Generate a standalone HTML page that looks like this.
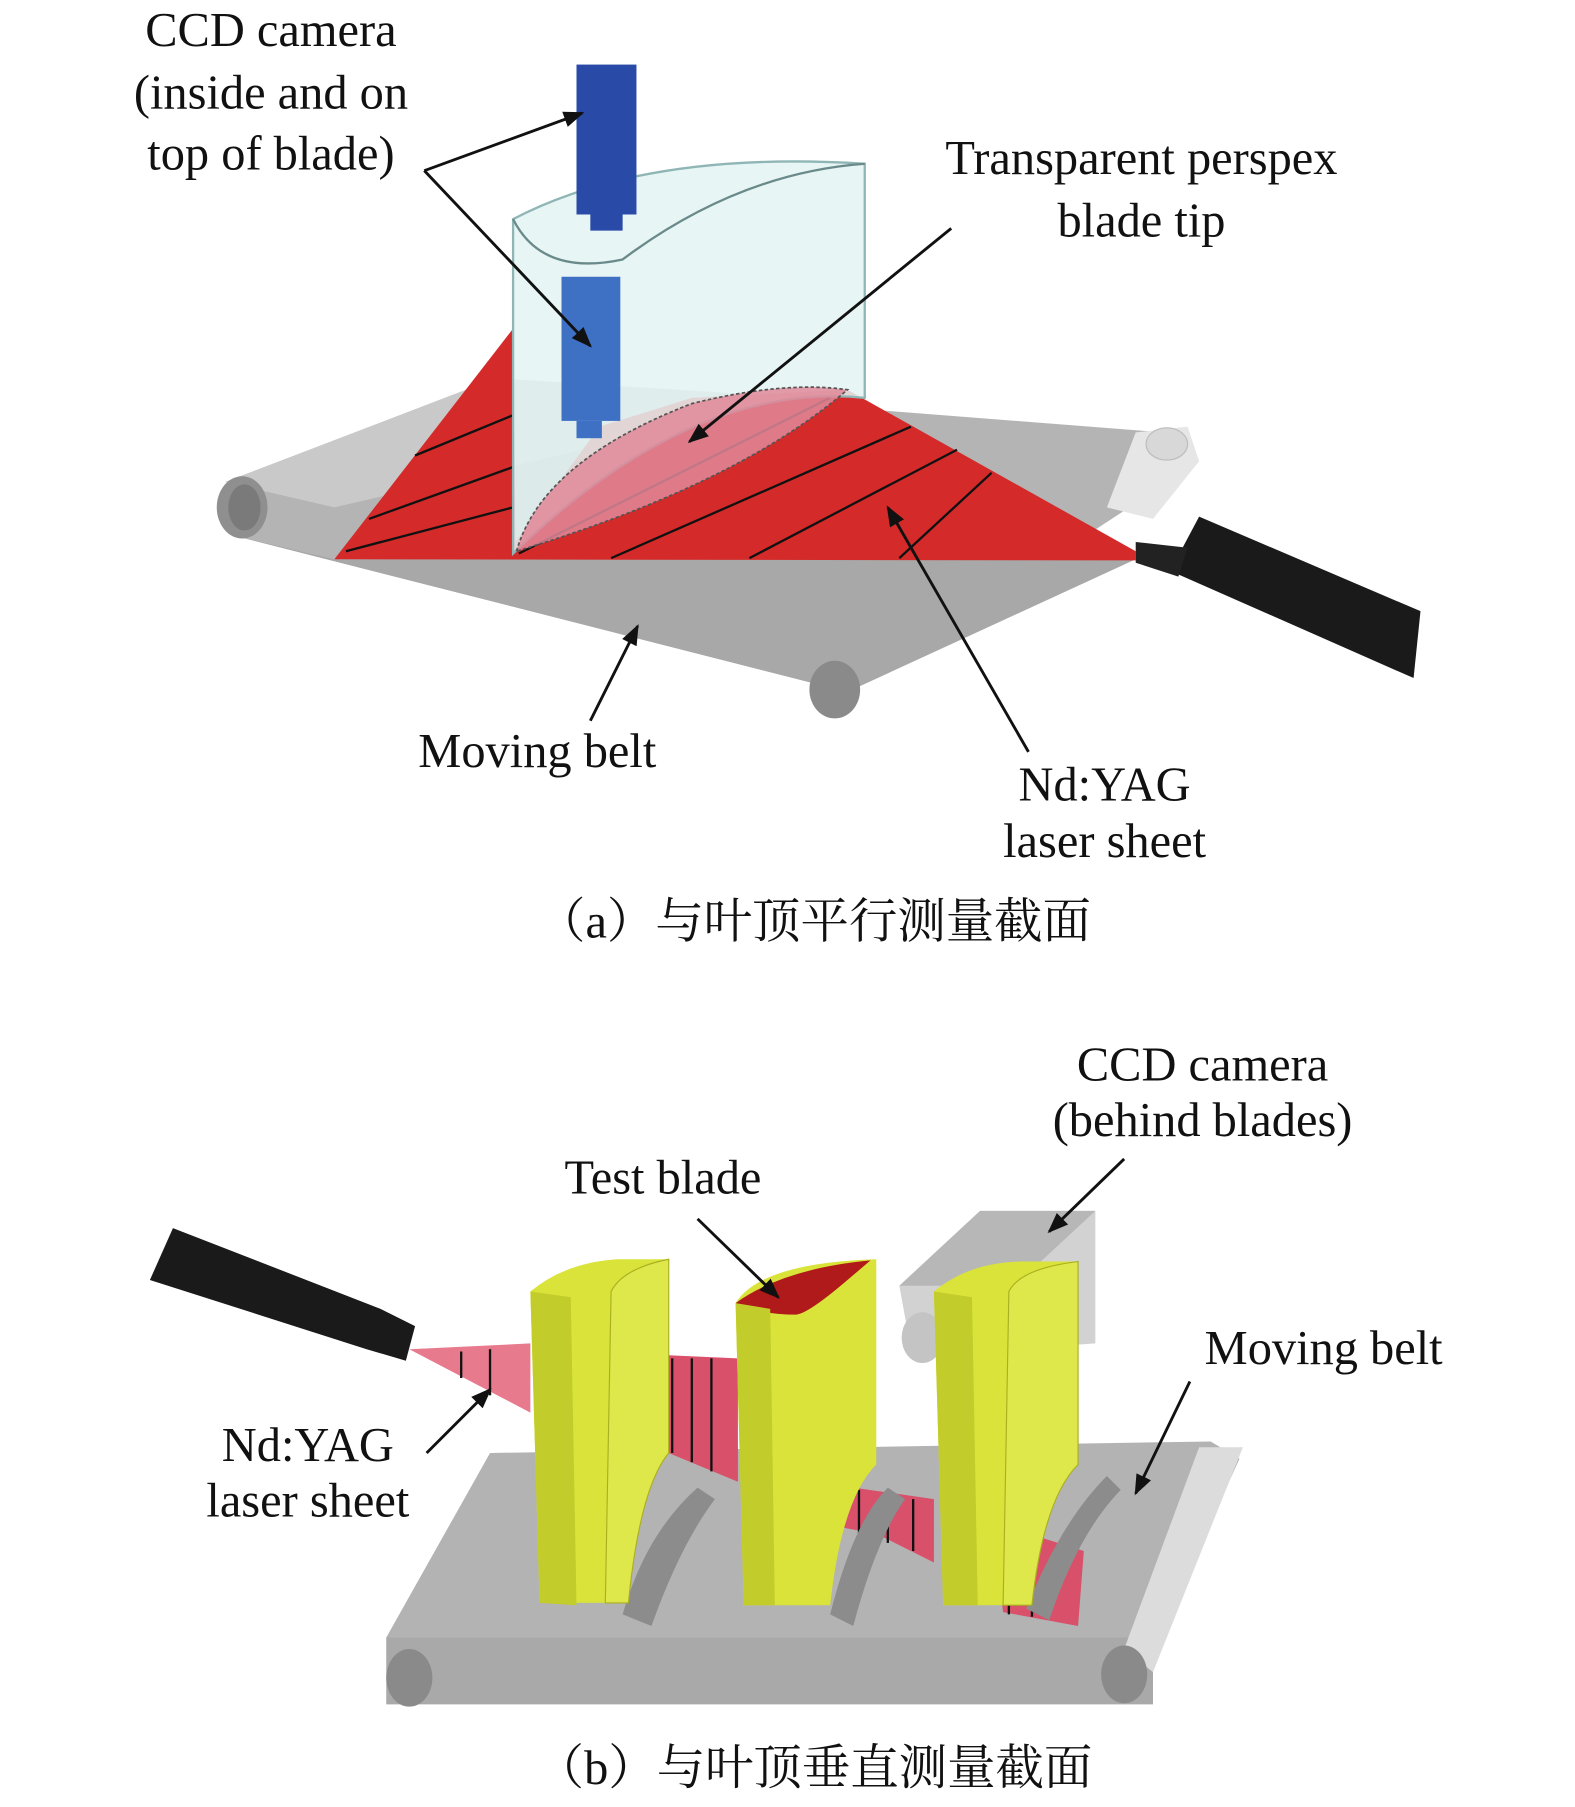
<!DOCTYPE html>
<html><head><meta charset="utf-8"><style>
html,body{margin:0;padding:0;background:#fff;}
svg{display:block;}
text{font-family:"Liberation Serif","Noto Serif CJK SC",serif;fill:#111;}
</style></head><body>
<svg width="1575" height="1807" viewBox="0 0 1366 1567" preserveAspectRatio="none" xmlns="http://www.w3.org/2000/svg">
<defs>
<marker id="ahb" markerWidth="18" markerHeight="18" refX="16" refY="9" orient="auto" markerUnits="userSpaceOnUse" viewBox="0 0 18 18">
<path d="M0,2 L18,9 L0,16 z" fill="#111"/></marker>
</defs>

<!-- ===== (a) ===== -->
<polygon points="195,420 430,330 1010,375 1010,420 735,600 205,465" fill="#b4b4b4"/>
<polygon points="205,465 290,485 985,485 735,600" fill="#a8a8a8"/>
<polygon points="195,418 430,328 700,345 290,440" fill="#c9c9c9"/>
<ellipse cx="210" cy="440" rx="22" ry="27" fill="#8f8f8f"/>
<ellipse cx="212" cy="440" rx="14" ry="20" fill="#7a7a7a"/>
<ellipse cx="724" cy="598" rx="22" ry="25" fill="#8a8a8a"/>
<polygon points="985,375 1030,370 1040,400 1000,450 960,440" fill="#e6e6e6"/>
<ellipse cx="1012" cy="385" rx="18" ry="14" fill="#d8d8d8" stroke="#bbb"/>
<polygon points="290,485 445,285 447,470 520,370 600,345 735,338 985,478 985,486" fill="#d42a2a"/>
<g stroke="#111" stroke-width="2">
<line x1="360" y1="395" x2="445" y2="360"/>
<line x1="320" y1="450" x2="445" y2="405"/>
<line x1="300" y1="478" x2="445" y2="440"/>
<line x1="450" y1="480" x2="720" y2="345"/>
<line x1="530" y1="484" x2="790" y2="370"/>
<line x1="650" y1="484" x2="830" y2="390"/>
<line x1="780" y1="484" x2="860" y2="410"/>
</g>
<path d="M445,480 L445,190 Q560,130 750,142 L750,345 Q600,330 445,480 z" fill="#e4f3f3" fill-opacity="0.85" stroke="#8fb5b5" stroke-width="2"/>
<path d="M445,190 Q470,240 540,225 Q640,150 750,142" fill="none" stroke="#6a8a8a" stroke-width="2"/>
<path d="M448,478 Q470,400 600,350 Q680,330 735,338 Q640,420 448,478 z" fill="#e08a9a" fill-opacity="0.85" stroke="#555" stroke-width="1.5" stroke-dasharray="3,2"/>
<rect x="500" y="56" width="52" height="130" fill="#2a4aa8"/>
<rect x="512" y="185" width="28" height="15" fill="#2a4aa8"/>
<rect x="487" y="240" width="51" height="125" fill="#3e70c4"/>
<rect x="500" y="365" width="22" height="15" fill="#3e70c4"/>
<polygon points="1040,448 1232,530 1226,588 1015,495" fill="#1a1a1a"/>
<polygon points="985,470 1030,475 1022,500 985,488" fill="#222"/>
<g stroke="#111" stroke-width="2.5" fill="none">
<line x1="368" y1="148" x2="505" y2="98" marker-end="url(#ahb)"/>
<line x1="368" y1="148" x2="512" y2="300" marker-end="url(#ahb)"/>
<line x1="825" y1="198" x2="598" y2="383" marker-end="url(#ahb)"/>
<line x1="892" y1="652" x2="770" y2="440" marker-end="url(#ahb)"/>
<line x1="512" y1="625" x2="553" y2="543" marker-end="url(#ahb)"/>
</g>
<g font-size="42" text-anchor="middle">
<text x="235" y="40">CCD camera</text>
<text x="235" y="94">(inside and on</text>
<text x="235" y="147">top of blade)</text>
<text x="990" y="151">Transparent perspex</text>
<text x="990" y="205">blade tip</text>
<text x="466" y="665">Moving belt</text>
<text x="958" y="694">Nd:YAG</text>
<text x="958" y="743">laser sheet</text>
<text x="706" y="813">（a）与叶顶平行测量截面</text>
</g>

<!-- ===== (b) ===== -->
<polygon points="335,1420 425,1260 1050,1250 1075,1265 1000,1430" fill="#b3b3b3"/>
<polygon points="335,1420 1000,1420 1000,1478 335,1478" fill="#a9a9a9"/>
<polygon points="1040,1255 1078,1255 1000,1450 975,1430" fill="#dcdcdc"/>
<ellipse cx="355" cy="1455" rx="20" ry="25" fill="#8a8a8a"/>
<ellipse cx="975" cy="1452" rx="20" ry="25" fill="#8a8a8a"/>
<polygon points="780,1115 850,1050 950,1050 950,1165 880,1170 790,1170" fill="#d2d2d2"/>
<polygon points="850,1050 950,1050 880,1115 780,1115" fill="#b7b7b7"/>
<ellipse cx="800" cy="1160" rx="18" ry="22" fill="#c4c4c4"/>
<polygon points="150,1065 330,1135 360,1150 352,1180 318,1170 130,1110" fill="#1a1a1a"/>
<polygon points="355,1170 460,1165 460,1225" fill="#e87a8e"/>
<polygon points="575,1175 640,1178 640,1285 575,1258" fill="#d8506a"/>
<polygon points="705,1285 810,1300 810,1355 760,1330 705,1320" fill="#d8506a"/>
<polygon points="860,1320 940,1345 935,1410 870,1398" fill="#d8506a"/>
<g stroke="#111" stroke-width="2">
<line x1="400" y1="1172" x2="400" y2="1195"/><line x1="425" y1="1170" x2="425" y2="1210"/>
<line x1="583" y1="1178" x2="583" y2="1260"/><line x1="600" y1="1178" x2="600" y2="1268"/><line x1="617" y1="1178" x2="617" y2="1276"/>
<line x1="720" y1="1290" x2="720" y2="1325"/><line x1="745" y1="1292" x2="745" y2="1330"/><line x1="770" y1="1296" x2="770" y2="1338"/><line x1="792" y1="1300" x2="792" y2="1345"/>
<line x1="875" y1="1322" x2="875" y2="1400"/><line x1="895" y1="1328" x2="895" y2="1402"/>
</g>
<g fill="#8c8c8c">
<path d="M540,1400 Q560,1330 605,1290 L620,1300 Q590,1340 565,1410 z"/>
<path d="M720,1400 Q740,1320 770,1290 L785,1300 Q760,1335 740,1410 z"/>
<path d="M890,1395 Q920,1320 960,1280 L972,1292 Q935,1330 910,1405 z"/>
</g>
<g>
<path d="M460,1120 Q490,1095 535,1092 L580,1092 L580,1260 Q555,1290 545,1390 L468,1390 Z" fill="#d9e33a"/>
<path d="M460,1120 L468,1390 L500,1392 L495,1125 Z" fill="#c2cc2a"/>
<path d="M530,1120 Q540,1100 580,1092 L580,1260 Q555,1290 545,1390 L525,1390 Z" fill="#dfe84a" stroke="#aab020" stroke-width="1"/>
<path d="M638,1130 Q660,1095 760,1092 L760,1270 Q730,1300 720,1392 L645,1392 Z" fill="#d9e33a"/>
<path d="M638,1130 Q680,1100 755,1093 L735,1110 Q700,1140 690,1140 Q660,1140 638,1130 z" fill="#b01a1a"/>
<path d="M638,1130 L645,1392 L672,1392 L668,1135 Z" fill="#c2cc2a"/>
<path d="M810,1120 Q840,1095 885,1094 L935,1094 L935,1270 Q905,1300 895,1392 L818,1392 Z" fill="#d9e33a"/>
<path d="M810,1120 L818,1392 L848,1392 L843,1125 Z" fill="#c2cc2a"/>
<path d="M875,1120 Q885,1100 935,1094 L935,1270 Q905,1300 895,1392 L870,1392 Z" fill="#dfe84a" stroke="#aab020" stroke-width="1"/>
</g>
<g stroke="#111" stroke-width="2.5" fill="none">
<line x1="370" y1="1260" x2="425" y2="1205" marker-end="url(#ahb)"/>
<line x1="605" y1="1057" x2="675" y2="1125" marker-end="url(#ahb)"/>
<line x1="975" y1="1005" x2="910" y2="1068" marker-end="url(#ahb)"/>
<line x1="1032" y1="1198" x2="985" y2="1295" marker-end="url(#ahb)"/>
</g>
<g font-size="42" text-anchor="middle">
<text x="1043" y="937">CCD camera</text>
<text x="1043" y="985">(behind blades)</text>
<text x="575" y="1035">Test blade</text>
<text x="1148" y="1183">Moving belt</text>
<text x="267" y="1267">Nd:YAG</text>
<text x="267" y="1315">laser sheet</text>
<text x="706" y="1547">（b）与叶顶垂直测量截面</text>
</g>
</svg>
</body></html>
